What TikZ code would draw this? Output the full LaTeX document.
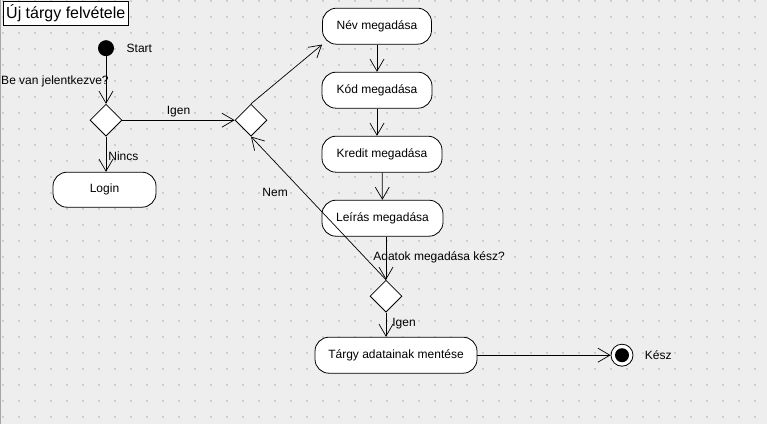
\documentclass[tikz,border=0pt]{standalone}
\usepackage{fontspec}
\setmainfont{Liberation Sans}
\usepackage{tikz}
\usetikzlibrary{shapes.geometric}
\usetikzlibrary{arrows.meta}
\definecolor{canvas}{HTML}{EEEEEE}
\definecolor{griddot}{HTML}{CFCFCF}

\begin{document}
\begin{tikzpicture}[x=1pt,y=-1pt,
    font=\fontsize{12}{14}\selectfont,
    activity/.style={draw,fill=white,rounded corners=14pt,minimum height=36pt,inner sep=2pt,line width=0.8pt},
    decision/.style={draw,fill=white,diamond,minimum width=32pt,minimum height=32pt,inner sep=0pt,line width=0.8pt},
    flow/.style={line width=0.7pt,-{Straight Barb[length=12pt,width=14pt,line width=0.7pt]}},
    tag/.style={inner sep=1pt}]

% canvas with dot grid
\fill[canvas] (0,0) rectangle (767,424);
\foreach \x in {3,19,...,755}
  \foreach \y in {1,17,...,417}
    \fill[griddot] (\x-1,\y-1) rectangle (\x+1,\y+1);
\draw[gray!70] (0.5,0) -- (0.5,424);
\useasboundingbox (0,0) rectangle (767,424);

\node[draw,fill=white,anchor=north west,inner xsep=3pt,minimum height=23pt,
    font=\fontsize{16}{18}\selectfont] at (3,1) (title) {Új tárgy felvétele};

\node[circle,fill=black,minimum size=16pt,inner sep=0pt,
    label={[label distance=9pt]right:{Start}}] at (106,48) (start) {};

\node[decision] at (106,120) (d1) {};
\node[decision] at (251,120) (d2) {};
\node[decision] at (386,296) (d3) {};

\node[activity,minimum width=103pt,minimum height=35pt] at (104.5,189.5) (login) {Login};
\node[activity,minimum width=109pt] at (377,26) (nev) {Név megadása};
\node[activity,minimum width=110pt] at (377,90) (kod) {Kód megadása};
\node[activity,minimum width=120pt] at (382,154) (kredit) {Kredit megadása};
\node[activity,minimum width=121pt] at (382.5,218) (leiras) {Leírás megadása};
\node[activity,minimum width=162pt] at (396,355) (targy) {Tárgy adatainak mentése};

\node[circle,draw,fill=white,line width=0.8pt,minimum size=22pt,inner sep=0pt,
    label={[label distance=8pt]right:{Kész}}] at (622,355) (end) {};
\node[circle,fill=black,minimum size=14pt,inner sep=0pt] at (end) (endcore) {};

\draw[flow] (start.south) -- (d1.north)
    node[tag,pos=0.52,anchor=east,xshift=4pt] {Be van jelentkezve?};
\draw[flow] (d1) -- (d2) node[midway,above] {Igen};
\draw[flow] (d1.south) -- (d1.south |- login.north)
    node[tag,pos=0.55,anchor=west,xshift=1pt] {Nincs};
\draw[flow] (d2.north) -- (nev.south west);
\draw[flow] (nev) -- (kod);
\draw[flow] (kod.south) -- (kod.south |- kredit.north);
\draw[flow] (kredit) -- (leiras);
\draw[flow] (leiras.south -| d3) -- (d3)
    node[tag,pos=0.48,anchor=west,xshift=-14pt] {Adatok megadása kész?};
\draw[flow] (d3.north) -- (d2.south)
    node[tag,pos=0.61,anchor=east,xshift=-14.5pt] {Nem};
\draw[flow] (d3.south) -- (d3.south |- targy.north)
    node[tag,pos=0.44,anchor=west,xshift=5pt] {Igen};
\draw[flow] (targy) -- (end);

\end{tikzpicture}
\end{document}
